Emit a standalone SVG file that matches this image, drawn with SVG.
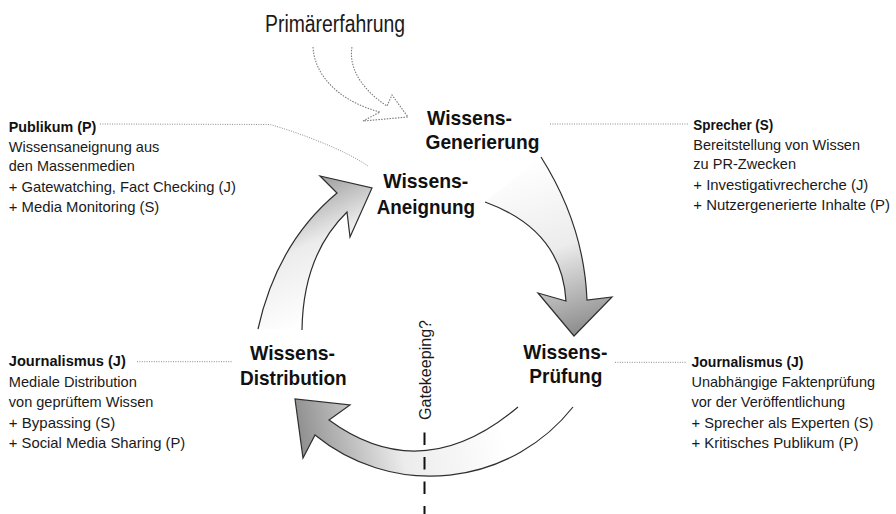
<svg xmlns="http://www.w3.org/2000/svg" width="896" height="514" viewBox="0 0 896 514">
<style>
text{font-family:"Liberation Sans",Arial,sans-serif;fill:#1a1a1a}
.lbl{font-size:21px;font-weight:bold;fill:#111}
.hd{font-size:15px;font-weight:bold;fill:#111}
.bd{font-size:15px}
.arrow{stroke:#2e2e2e;stroke-width:1.2;stroke-linejoin:miter}
.dot{fill:none;stroke:#8a8a8a;stroke-width:1;stroke-dasharray:1 1.4}
</style>
<defs>
<linearGradient id="gR" gradientUnits="userSpaceOnUse" x1="520" y1="165" x2="578" y2="336">
<stop offset="0" stop-color="#ffffff"/><stop offset="0.5" stop-color="#ececec"/><stop offset="1" stop-color="#8a8a8a"/>
</linearGradient>
<linearGradient id="gL" gradientUnits="userSpaceOnUse" x1="360" y1="300" x2="300" y2="170">
<stop offset="0" stop-color="#ffffff"/><stop offset="0.5" stop-color="#ececec"/><stop offset="1" stop-color="#8a8a8a"/>
</linearGradient>
<linearGradient id="gB" gradientUnits="userSpaceOnUse" x1="500" y1="415" x2="298" y2="458">
<stop offset="0" stop-color="#ffffff"/><stop offset="0.5" stop-color="#ececec"/><stop offset="1" stop-color="#8a8a8a"/>
</linearGradient>
</defs>
<rect width="896" height="514" fill="#ffffff"/>

<g id="connectors">
<path id="arrow-generierung-pruefung" class="arrow" fill="url(#gR)" d="M541,157 Q584,225 587,300 L612,297 L574,336 L538,293 L566,301 Q562,230 485,202"/>
<path id="arrow-pruefung-distribution" class="arrow" fill="url(#gB)" d="M573,407 A182,182 0 0 1 315,435 L303,458 L295,399 L350,405 L329,420 Q422,488 518,407"/>
<path id="arrow-distribution-aneignung" class="arrow" fill="url(#gL)" d="M258,329 Q277,243 337,193 L320,176 L372,188 L350,237 L347,212 Q303,255 302,330"/>
<path id="arrow-primaer" fill="none" stroke="#7a7a7a" stroke-width="1.1" stroke-dasharray="1.5 1.3" d="M313,47 C315,80 345,103 380,112 L363,121 L408,117 L392,95 L387,106 C365,92 348,70 352,47"/>
<path class="dot" d="M100,124 L270,124.5 C300,133 345,150 368,166"/>
<path class="dot" d="M550,124 L688,124"/>
<path class="dot" d="M137,361.7 L233,361.7"/>
<path class="dot" d="M615,362.3 L687,362.3"/>
<line id="gatekeeping-line" x1="424.5" y1="432.5" x2="424.5" y2="514" stroke="#111" stroke-width="2" stroke-dasharray="12.5 12"/>
</g>

<g id="primaererfahrung">
<text x="265" y="32" font-size="23" textLength="140" lengthAdjust="spacingAndGlyphs">Primärerfahrung</text>
</g>

<g id="wissens-generierung">
<text class="lbl" x="427" y="125" textLength="85" lengthAdjust="spacingAndGlyphs">Wissens-</text>
<text class="lbl" x="425.5" y="149" textLength="114" lengthAdjust="spacingAndGlyphs">Generierung</text>
</g>

<g id="wissens-aneignung">
<text class="lbl" x="383.3" y="188" textLength="85" lengthAdjust="spacingAndGlyphs">Wissens-</text>
<text class="lbl" x="376.7" y="213.5" textLength="98.3" lengthAdjust="spacingAndGlyphs">Aneignung</text>
</g>

<g id="wissens-distribution">
<text class="lbl" x="250" y="360" textLength="85" lengthAdjust="spacingAndGlyphs">Wissens-</text>
<text class="lbl" x="240" y="385" textLength="106.7" lengthAdjust="spacingAndGlyphs">Distribution</text>
</g>

<g id="wissens-pruefung">
<text class="lbl" x="523.3" y="359" textLength="84" lengthAdjust="spacingAndGlyphs">Wissens-</text>
<text class="lbl" x="529.3" y="383" textLength="73" lengthAdjust="spacingAndGlyphs">Prüfung</text>
</g>

<g id="gatekeeping">
<text transform="translate(431,420) rotate(-90)" font-size="16" textLength="100" lengthAdjust="spacingAndGlyphs">Gatekeeping?</text>
</g>

<g id="publikum">
<text class="hd" x="8.8" y="131.7" textLength="87.5" lengthAdjust="spacingAndGlyphs">Publikum (P)</text>
<text class="bd" x="8.8" y="151.7" textLength="150.5" lengthAdjust="spacingAndGlyphs">Wissensaneignung aus</text>
<text class="bd" x="8.8" y="171" textLength="126" lengthAdjust="spacingAndGlyphs">den Massenmedien</text>
<text class="bd" x="8.8" y="191.5" textLength="227" lengthAdjust="spacingAndGlyphs">+  Gatewatching, Fact Checking (J)</text>
<text class="bd" x="8.8" y="211.5" textLength="150.5" lengthAdjust="spacingAndGlyphs">+  Media Monitoring (S)</text>
</g>

<g id="sprecher">
<text class="hd" x="693.3" y="130" textLength="80" lengthAdjust="spacingAndGlyphs">Sprecher (S)</text>
<text class="bd" x="693.3" y="150" textLength="166.7" lengthAdjust="spacingAndGlyphs">Bereitstellung von Wissen</text>
<text class="bd" x="693.3" y="169" textLength="102.7" lengthAdjust="spacingAndGlyphs">zu PR-Zwecken</text>
<text class="bd" x="693.3" y="190" textLength="175" lengthAdjust="spacingAndGlyphs">+  Investigativrecherche (J)</text>
<text class="bd" x="693.3" y="210" font-size="14.5" textLength="196.7" lengthAdjust="spacingAndGlyphs">+  Nutzergenerierte Inhalte (P)</text>
</g>

<g id="journalismus-distribution">
<text class="hd" x="8.8" y="366" textLength="117" lengthAdjust="spacingAndGlyphs">Journalismus (J)</text>
<text class="bd" x="8.8" y="386.7" textLength="128" lengthAdjust="spacingAndGlyphs">Mediale Distribution</text>
<text class="bd" x="8.8" y="407.3" textLength="144.5" lengthAdjust="spacingAndGlyphs">von geprüftem Wissen</text>
<text class="bd" x="8.8" y="428" textLength="106.5" lengthAdjust="spacingAndGlyphs">+  Bypassing (S)</text>
<text class="bd" x="8.8" y="448.3" textLength="176.5" lengthAdjust="spacingAndGlyphs">+  Social Media Sharing (P)</text>
</g>

<g id="journalismus-pruefung">
<text class="hd" x="691.5" y="366.5" textLength="112" lengthAdjust="spacingAndGlyphs">Journalismus (J)</text>
<text class="bd" x="691.5" y="387" textLength="183.5" lengthAdjust="spacingAndGlyphs">Unabhängige Faktenprüfung</text>
<text class="bd" x="691.5" y="407.3" textLength="153.5" lengthAdjust="spacingAndGlyphs">vor der Veröffentlichung</text>
<text class="bd" x="691.5" y="428" textLength="182" lengthAdjust="spacingAndGlyphs">+  Sprecher als Experten (S)</text>
<text class="bd" x="691.5" y="448.3" textLength="167" lengthAdjust="spacingAndGlyphs">+  Kritisches Publikum (P)</text>
</g>
</svg>
